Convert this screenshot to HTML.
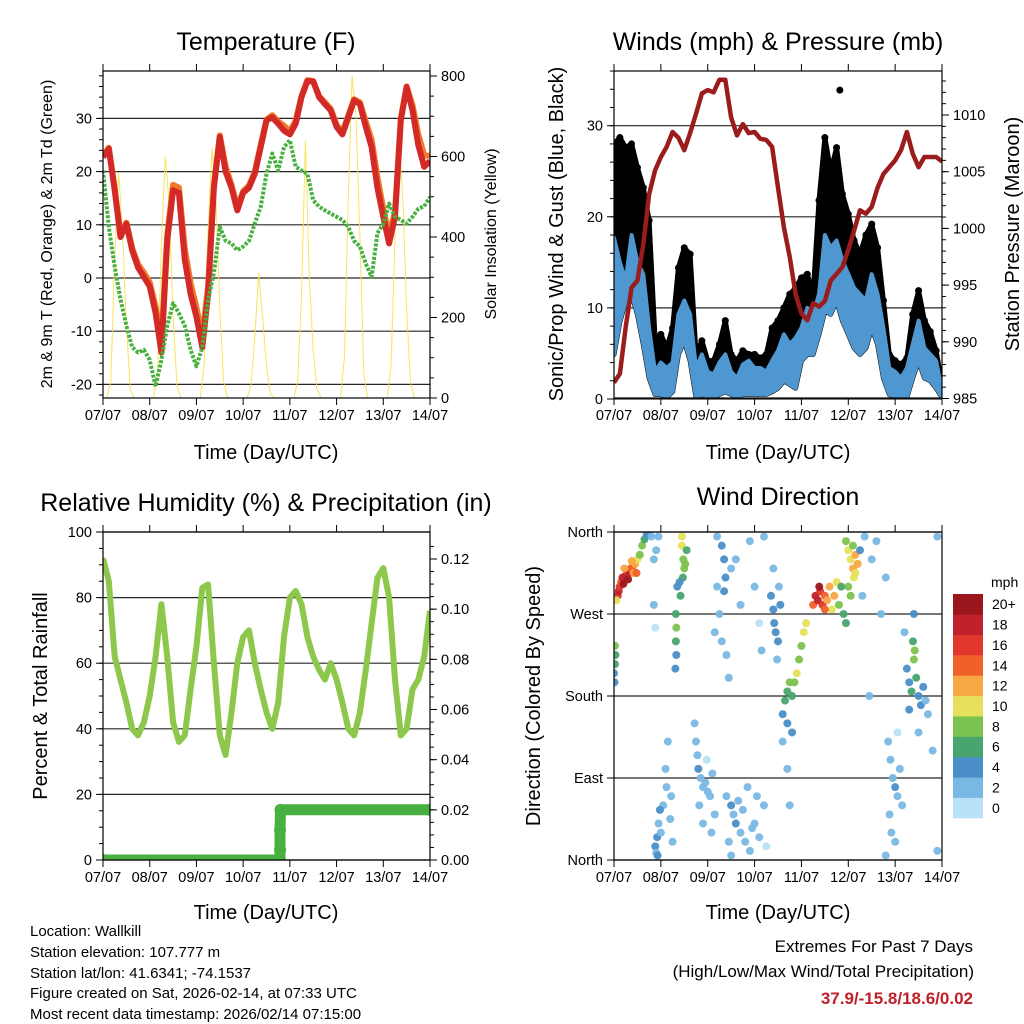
<!DOCTYPE html>
<html><head><meta charset="utf-8">
<style>
html,body{margin:0;padding:0;background:#fff;}
svg{display:block;font-family:"Liberation Sans",Arial,sans-serif;}
</style></head>
<body>
<svg id="fig" width="1024" height="1024" viewBox="0 0 1024 1024" xmlns="http://www.w3.org/2000/svg">
<rect x="0" y="0" width="1024" height="1024" fill="#fff"/>
<g id="layer"></g>
<text x="266" y="50" font-size="25" text-anchor="middle">Temperature (F)</text>
<text x="778" y="50" font-size="25" text-anchor="middle">Winds (mph) &amp; Pressure (mb)</text>
<text x="266" y="511" font-size="25" text-anchor="middle">Relative Humidity (%) &amp; Precipitation (in)</text>
<text x="778" y="505" font-size="25" text-anchor="middle">Wind Direction</text>
<text x="266" y="459" font-size="20" text-anchor="middle">Time (Day/UTC)</text>
<text x="778" y="459" font-size="20" text-anchor="middle">Time (Day/UTC)</text>
<text x="266" y="919" font-size="20" text-anchor="middle">Time (Day/UTC)</text>
<text x="778" y="919" font-size="20" text-anchor="middle">Time (Day/UTC)</text>
<text transform="translate(52,234) rotate(-90)" font-size="16" text-anchor="middle">2m &amp; 9m T (Red, Orange) &amp; 2m Td (Green)</text>
<text transform="translate(496,234) rotate(-90)" font-size="16" text-anchor="middle">Solar Insolation (Yellow)</text>
<text transform="translate(563,234) rotate(-90)" font-size="20" text-anchor="middle">Sonic/Prop Wind &amp; Gust (Blue, Black)</text>
<text transform="translate(1019,234) rotate(-90)" font-size="20" text-anchor="middle">Station Pressure (Maroon)</text>
<text transform="translate(47,696) rotate(-90)" font-size="20" text-anchor="middle">Percent &amp; Total Rainfall</text>
<text transform="translate(540,696) rotate(-90)" font-size="20" text-anchor="middle">Direction (Colored By Speed)</text>
<g font-size="15">
<text x="30" y="936">Location: Wallkill</text>
<text x="30" y="957">Station elevation: 107.777 m</text>
<text x="30" y="978">Station lat/lon: 41.6341; -74.1537</text>
<text x="30" y="998">Figure created on Sat, 2026-02-14, at 07:33 UTC</text>
<text x="30" y="1019">Most recent data timestamp: 2026/02/14 07:15:00</text>
</g>
<g text-anchor="end">
<text x="973" y="952" font-size="17">Extremes For Past 7 Days</text>
<text x="974" y="977" font-size="17">(High/Low/Max Wind/Total Precipitation)</text>
<text x="973" y="1004" font-size="17" font-weight="bold" fill="#c0202a">37.9/-15.8/18.6/0.02</text>
</g>
</svg>
<script>
const dayLabels = ["07/07","08/07","09/07","10/07","11/07","12/07","13/07","14/07"];
const temp2m = [22.7,24.3,16.5,7.7,10.2,5.2,2,0.2,-1.6,-6.6,-14,7,16.5,16,3.4,-3,-7.3,-13,-3,17,26.5,20,17,12.7,16,17,19.6,24.6,29.6,30.2,29,27.7,27,29,34,37,37,34,32.7,31.5,28.4,27,30.2,33.4,32.7,28.4,24.6,17,11.5,6.5,11.5,29.6,35.9,31.5,25,20.9,22];
const temp9m = [22.9,24.5,16.8,8.0,10.4,5.6,2.6,1.0,-0.8,-5.4,-12,8,17.5,17,5.5,-1,-5.5,-11,-1.5,17.5,26.8,21,17.5,13.2,16.3,17.4,20,25,29.8,30.6,29.4,28.6,27.6,29.6,34.2,37.2,37,34.2,33,31.8,28.8,27.4,30.6,33.6,33,29.4,26,19,13,8,12.5,30,36,32.5,27,23,23];
const dewpoint = [20.2,9.6,2.1,-4,-9,-13,-14,-13.5,-15.4,-20.4,-15.4,-9,-4.75,-6.6,-9,-13.5,-16.6,-13,-4,0.9,9.6,7,6.5,5.2,5.9,7,10.2,13.4,19.6,23.4,20.2,24.6,25.9,20.9,20.2,19.6,14.6,13.4,12.7,12.1,11.5,10.9,9.6,7,5.9,2.7,0.2,8.4,10.2,14,11.5,10.9,10.2,11.5,13,13.5,15.2];
const solar = [0,0,40,350,560,420,180,20,0,0,0,0, 0,0,60,380,600,480,200,30,0,0,0,0, 0,0,80,420,620,500,220,40,0,0,0,0, 0,0,30,150,310,200,80,10,0,0,0,0, 0,0,40,250,640,300,120,20,0,0,0,0, 0,0,100,500,800,700,400,60,0,0,0,0, 0,0,80,400,640,500,220,40,0,0,0,0, 0];
const pressure = [986.4,987.2,991.3,994.8,995.4,998.6,1003,1005.1,1006.3,1007.2,1008.5,1008,1006.9,1008.4,1010.1,1011.9,1012.2,1012,1013.1,1013.1,1009.8,1008.2,1009.2,1008.4,1008.5,1007.9,1007.8,1007.2,1003.6,1000.1,997.5,994.2,992.5,991.9,993.4,993.1,993.6,995.4,996,996.6,998.1,999.8,1001.6,1001.3,1001.9,1003.6,1004.8,1005.4,1006,1006.9,1008.5,1006.6,1005.4,1006.3,1006.3,1006.3,1005.9];
const windHigh = [17.7,15,13,18,15,13.7,7.8,3,4,3.4,4,9.3,10.8,9.3,3.4,4.9,3,2.7,4,4.9,3,2.3,3.8,4.2,3.4,3.4,3,4.2,5.3,7.1,6,6.7,7.8,10,9.3,11.5,18,16.6,17.4,15.2,13.7,12.2,11.5,10.8,13.7,11.5,7.8,3.4,3,2.3,3.4,6,8.6,5.6,4.9,4.2,0.9];
const windLow = [4.9,8.5,10.7,11.5,9.3,6,2.3,0.5,0.5,0.2,0.8,4.9,6.4,4.2,0.2,0.5,0.2,0.2,0.5,0.8,0.5,0.2,0.5,0.5,0.5,0.5,0.5,0.8,1.2,2,1.6,1.2,4.2,4.9,4.9,7.1,9.7,9.3,10.8,8.6,7.1,5.6,4.9,5.6,7.8,6,2.3,0.5,0.2,0.2,0.2,2.3,4.2,2.3,2,1.2,0.2];
const gust = [28,28.7,27.6,28,25.4,23.2,19.6,6.7,7.1,5.6,7.8,14.4,16.6,15.9,4.9,6.4,4.2,4.2,6,8.6,4.9,4.2,5.3,4.9,4.9,4.5,4.9,7.8,8.6,10,11.5,12.2,13.3,13.7,11.5,21.8,28.7,25,27.6,22.5,20.3,17.4,15.9,18,19.2,16.6,10.8,4.9,4.2,3.8,4.5,9.3,11.9,8.6,7.4,5.3,1.6];
const gustOutlierDay = [4.82];
const gustOutlierVal = [33.9];
const humidity = [92,85,62,55,48,40,38,42,50,62,78,62,42,36,38,52,65,83,84,60,38,32,45,60,68,70,60,52,45,40,48,68,80,82,78,68,62,58,55,60,55,48,40,38,45,58,72,86,89,80,55,38,40,52,55,62,76];
const rainDay = [0,3.79,3.79,3.79,3.80,7];
const rainVal = [0,0,0.004,0.012,0.02,0.02];
const dirDay = [0.08,0.1,0.12,0.15,0.18,0.2,0.25,0.28,0.3,0.33,0.36,0.4,0.42,0.45,0.5,0.55,0.6,0.65,0.7,0.75,0.8,0.05,0.22,0.38,0.48,
0.0,0.02,0.03,0.02,0.01, 0.85,0.9,0.95,0.85,0.88,
1.45,1.45,1.48,1.5,1.47,1.42,1.32,1.33,1.32,1.33,1.31,1.35,1.4,1.55,1.52,
0.88,0.9,0.92,0.95,0.93,1.0,1.05,1.1,1.15,1.12,0.98,1.25,1.2,1.22,
1.72,1.75,1.78,1.8,1.85,1.9,1.95,2.0,2.05,1.82,1.9,2.1,2.15,1.98,2.08,
2.2,2.3,2.35,2.38,2.35,2.25,2.3,2.4,2.45,2.15,2.2,2.5,
2.4,2.5,2.55,2.6,2.7,2.8,2.9,2.45,2.65,2.75,3.0,3.1,3.2,3.25,2.85,2.95,2.5,3.05,
2.6,2.9,3.0,3.1,3.2,2.7,3.15,
3.35,3.4,3.42,3.45,3.5,3.48,3.55,3.52,3.4,
3.6,3.65,3.7,3.75,3.8,3.85,3.9,3.95,4.0,4.05,4.1,3.7,3.8,3.6,3.7,3.75,
4.25,4.3,4.35,4.4,4.45,4.5,4.55,4.6,4.65,4.7,4.75,4.8,4.38,4.5,
4.95,5.0,5.05,5.1,5.15,5.0,5.05,5.1,5.15,4.9,4.95,5.2,5.12,4.85,5.25,
5.35,5.6,5.5,5.3,5.7,5.8,5.45,
5.85,5.9,5.95,6.0,6.05,6.1,5.88,5.92,6.0,5.8,6.15,6.05,
6.25,6.3,6.35,6.4,6.42,6.45,6.5,6.55,6.6,6.65,6.7,6.3,6.38,6.2,6.5,6.8,6.9,6.9,6.4];
const dirDeg = [290,295,300,305,310,303,312,318,308,315,320,322,315,325,330,335,345,352,357,358,355,285,320,328,315,
205,215,225,235,195, 330,340,355,280,255,
355,345,330,320,310,290,270,255,240,225,210,300,305,340,325,
15,8,25,40,5,30,60,100,130,80,55,20,45,70,
150,130,115,100,90,80,85,75,70,60,40,95,50,110,30,
355,345,330,310,295,270,240,225,200,250,300,320,
70,60,50,40,30,20,10,20,65,55,40,25,60,15,80,35,5,70,
330,350,300,260,355,280,230,
290,275,260,250,240,220,280,300,320,
160,175,185,195,180,195,205,220,235,250,260,150,140,130,100,60,
280,290,285,295,280,290,285,300,275,290,305,280,300,275,
350,340,330,320,315,300,290,345,335,270,260,325,310,300,340,
355,350,330,290,270,310,180,
130,110,90,80,70,100,50,30,20,5,60,140,
210,195,185,220,230,200,180,170,190,175,160,165,240,250,140,120,355,10,270];
const dirSpeed = [16,18,15,14,17,19,18,16,20,17,14,13,12,11,10,8,7,5,4,3,2,10,12,11,14,
4,6,6,7,4, 1,2,1,1,0,
9,10,7,8,6,5,6,7,5,4,4,4,3,6,7,
3,2,3,2,3,2,2,2,1,1,3,1,1,2,
2,1,2,3,2,1,2,1,2,2,1,1,1,0,1,
2,3,3,3,4,2,1,2,1,1,1,1,
2,3,2,3,2,2,1,2,1,2,1,1,1,0,1,2,1,1,
1,1,1,0,1,1,1,
3,4,3,4,3,2,3,2,1,
4,6,5,7,6,8,9,8,8,9,10,4,3,2,1,1,
14,17,18,16,15,13,12,11,10,12,9,8,19,14,
7,9,10,11,10,8,7,8,11,6,6,12,9,5,4,
2,1,1,1,1,1,1,
1,2,2,3,2,2,1,1,1,1,1,0,
3,4,5,7,8,6,4,3,4,2,2,3,5,1,1,1,1,1,4];
const speedColors = ["#b8e2f7","#7ab8e4","#4a8fc8","#48a56e","#7cc24e","#e6e05a","#f8a845","#f0612a","#e0362b","#c0212a","#9b161c"];
const speedLabels = ["0","2","4","6","8","10","12","14","16","18","20+"];

const NS="http://www.w3.org/2000/svg";
const layer=document.getElementById('layer');
function mk(tag,attrs,parent){const e=document.createElementNS(NS,tag);for(const k in attrs)e.setAttribute(k,attrs[k]);(parent||layer).appendChild(e);return e;}
function lin(d0,d1,r0,r1){return v=>r0+(v-d0)*(r1-r0)/(d1-d0);}

const P1={x0:103,x1:430,y0:71,y1:398};
const P2={x0:614,x1:942,y0:71,y1:398};
const P3={x0:103,x1:430,y0:532,y1:860};
const P4={x0:614,x1:942,y0:532,y1:860};

function clip(id,p){const c=mk('clipPath',{id:id});mk('rect',{x:p.x0,y:p.y0,width:p.x1-p.x0,height:p.y1-p.y0},c);}
clip('c1',P1);clip('c2',P2);clip('c3',P3);clip('c4',P4);

function xAxis(p,name){
  const xs=lin(0,7,p.x0,p.x1);
  const g=mk('g',{});
  
  
  for(let i=0;i<dayLabels.length;i++){
    const x=xs(i);
    mk('line',{x1:x,x2:x,y1:p.y1,y2:p.y1+7,stroke:'#000','stroke-width':1},g);
    mk('line',{x1:x,x2:x,y1:p.y0,y2:p.y0-7,stroke:'#000','stroke-width':1},g);
    const t=mk('text',{x:x,y:p.y1+22,'font-size':14.5,'text-anchor':'middle'},g);
    t.textContent=dayLabels[i];
  }
  return xs;
}
function yTicks(p,side,vals,labels,scale,name,grid,minor){
  const g=mk('g',{});
  
  
  const x=side==='l'?p.x0:p.x1, dir=side==='l'?-1:1;
  if(minor){for(const m of minor){const y=scale(m);if(y<p.y0-0.5||y>p.y1+0.5)continue;mk('line',{x1:x,x2:x+dir*4,y1:y,y2:y,stroke:'#000','stroke-width':1},g);}}
  for(let i=0;i<vals.length;i++){
    const y=scale(vals[i]);
    if(grid) mk('line',{x1:p.x0,x2:p.x1,y1:y,y2:y,stroke:'#000','stroke-width':1.2,opacity:0.85},g);
    mk('line',{x1:x,x2:x+dir*7,y1:y,y2:y,stroke:'#000','stroke-width':1},g);
    const t=mk('text',{x:x+dir*11,y:y+5,'font-size':14.5,'text-anchor':side==='l'?'end':'start'},g);
    t.textContent=labels[i];
  }
}
function frame(p,name){const r=mk('rect',{x:p.x0,y:p.y0,width:p.x1-p.x0,height:p.y1-p.y0,fill:'none',stroke:'#000','stroke-width':1.2});
  }
function pathFrom(xs,ys,arr,span){let d='';const n=arr.length;for(let i=0;i<n;i++){d+=(i?'L':'M')+xs(i*span/(n-1)).toFixed(1)+','+ys(arr[i]).toFixed(1);}return d;}

{
  const p=P1;const xs=xAxis(p,'temp-x-axis');
  const ty=lin(0,30,278,118.4);
  const sy=lin(0,800,398,76);
  const mt=[];for(let v=-22;v<=38;v+=2)mt.push(v);
  yTicks(p,'l',[-20,-10,0,10,20,30],["-20","-10","0","10","20","30"],ty,'temp-y-axis',true,mt);
  const ms=[];for(let v=0;v<=800;v+=50)ms.push(v);
  yTicks(p,'r',[0,200,400,600,800],["0","200","400","600","800"],sy,'solar-y-axis',false,ms);
  const g=mk('g',{'clip-path':'url(#c1)'});
  const s=mk('path',{d:pathFrom(xs,sy,solar,7),fill:'none',stroke:'#f8e04a','stroke-width':1,opacity:0.9},g);
  
  const o=mk('path',{d:pathFrom(xs,ty,temp9m,7),fill:'none',stroke:'#f07a2a','stroke-width':6,'stroke-linejoin':'round'},g);
  
  const r=mk('path',{d:pathFrom(xs,ty,temp2m,7),fill:'none',stroke:'#d42a27','stroke-width':6,'stroke-linejoin':'round'},g);
  
  const dp=mk('path',{d:pathFrom(xs,ty,dewpoint,7),fill:'none',stroke:'#48b040','stroke-width':4,'stroke-dasharray':'3 1.5','stroke-linejoin':'round'},g);
  
  frame(p,'temp-plot-frame');
}
{
  const p=P2;const xs=xAxis(p,'winds-x-axis');
  const wy=lin(0,30,399,125.7);
  const py=lin(985,1010,398.5,115);
  const mw=[];for(let v=0;v<=36;v+=2)mw.push(v);
  yTicks(p,'l',[0,10,20,30],["0","10","20","30"],wy,'wind-y-axis',true,mw);
  const mp=[];for(let v=985;v<=1014;v++)mp.push(v);
  yTicks(p,'r',[985,990,995,1000,1005,1010],["985","990","995","1000","1005","1010"],py,'pressure-y-axis',false,mp);
  const g=mk('g',{'clip-path':'url(#c2)'});
  const n=gust.length;
  let d='';for(let i=0;i<n;i++)d+=(i?'L':'M')+xs(i*7/(n-1)).toFixed(1)+','+wy(gust[i]).toFixed(1);
  for(let i=n-1;i>=0;i--)d+='L'+xs(i*7/(n-1)).toFixed(1)+','+wy(windLow[i]).toFixed(1);
  const gb=mk('path',{d:d+'Z',fill:'#000',stroke:'#000','stroke-width':5,'stroke-linejoin':'round'},g);
  
  for(let i=0;i<n;i++){
    const c=mk('circle',{cx:xs(i*7/(n-1)),cy:wy(gust[i]),r:3.5,fill:'#000'},g);
    
    
  }
  for(let i=0;i<gustOutlierDay.length;i++){
    const c=mk('circle',{cx:xs(gustOutlierDay[i]),cy:wy(gustOutlierVal[i]),r:3.5,fill:'#000'},g);
    
    
  }
  let d2='';for(let i=0;i<n;i++)d2+=(i?'L':'M')+xs(i*7/(n-1)).toFixed(1)+','+wy(windHigh[i]).toFixed(1);
  for(let i=n-1;i>=0;i--)d2+='L'+xs(i*7/(n-1)).toFixed(1)+','+wy(windLow[i]).toFixed(1);
  const wb=mk('path',{d:d2+'Z',fill:'#4f97d0',stroke:'#4f97d0','stroke-width':4,'stroke-linejoin':'round'},g);
  
  const pl=mk('path',{d:pathFrom(xs,py,pressure,7),fill:'none',stroke:'#9b1c1c','stroke-width':4.5,'stroke-linejoin':'round'},g);
  
  frame(p,'winds-plot-frame');
}
{
  const p=P3;const xs=xAxis(p,'humidity-x-axis');
  const hy=lin(0,100,860,532);
  const ry=lin(0,0.12,860,559);
  const mh=[];for(let v=0;v<=100;v+=5)mh.push(v);
  yTicks(p,'l',[0,20,40,60,80,100],["0","20","40","60","80","100"],hy,'humidity-y-axis',true,mh);
  const mr=[];for(let v=0;v<=0.13;v+=0.005)mr.push(v);
  yTicks(p,'r',[0,0.02,0.04,0.06,0.08,0.10,0.12],["0.00","0.02","0.04","0.06","0.08","0.10","0.12"],ry,'rainfall-y-axis',false,mr);
  const g=mk('g',{'clip-path':'url(#c3)'});
  const hl=mk('path',{d:pathFrom(xs,hy,humidity,7),fill:'none',stroke:'#8cc84b','stroke-width':6,'stroke-linejoin':'round'},g);
  
  let d='';for(let i=0;i<rainDay.length;i++)d+=(i?'L':'M')+xs(rainDay[i]).toFixed(1)+','+ry(rainVal[i]).toFixed(1);
  const rl=mk('path',{d:d,fill:'none',stroke:'#48b040','stroke-width':11,'stroke-linecap':'round','stroke-linejoin':'round'},g);
  
  for(let i=0;i<rainDay.length;i++){
    const c=mk('circle',{cx:xs(rainDay[i]),cy:ry(rainVal[i]),r:6,fill:'#48b040'},g);
    
    
  }
  frame(p,'humidity-plot-frame');
}
{
  const p=P4;const xs=xAxis(p,'direction-x-axis');
  const dy=lin(0,360,860,532);
  yTicks(p,'l',[0,90,180,270,360],["North","East","South","West","North"],dy,'direction-y-axis',true,null);
  const g=mk('g',{'clip-path':'url(#c4)'});
  for(let i=0;i<dirDay.length;i++){
    const k=Math.min(10,Math.max(0,Math.round(dirSpeed[i]/2)));
    const c=mk('circle',{cx:xs(dirDay[i]),cy:dy(dirDeg[i]),r:4,fill:speedColors[k],opacity:0.95},g);
    
    
  }
  frame(p,'direction-plot-frame');
  const cb=mk('g',{});
  
  
  const t=mk('text',{x:991,y:587,'font-size':14},cb);t.textContent='mph';
  const h=224/11;
  for(let i=0;i<11;i++){
    const y=818-(i+1)*h;
    mk('rect',{x:953,y:y,width:30,height:h+0.3,fill:speedColors[i]},cb);
    const l=mk('text',{x:992,y:y+h/2+5,'font-size':14},cb);l.textContent=speedLabels[i];
  }
}
</script>
</body></html>
